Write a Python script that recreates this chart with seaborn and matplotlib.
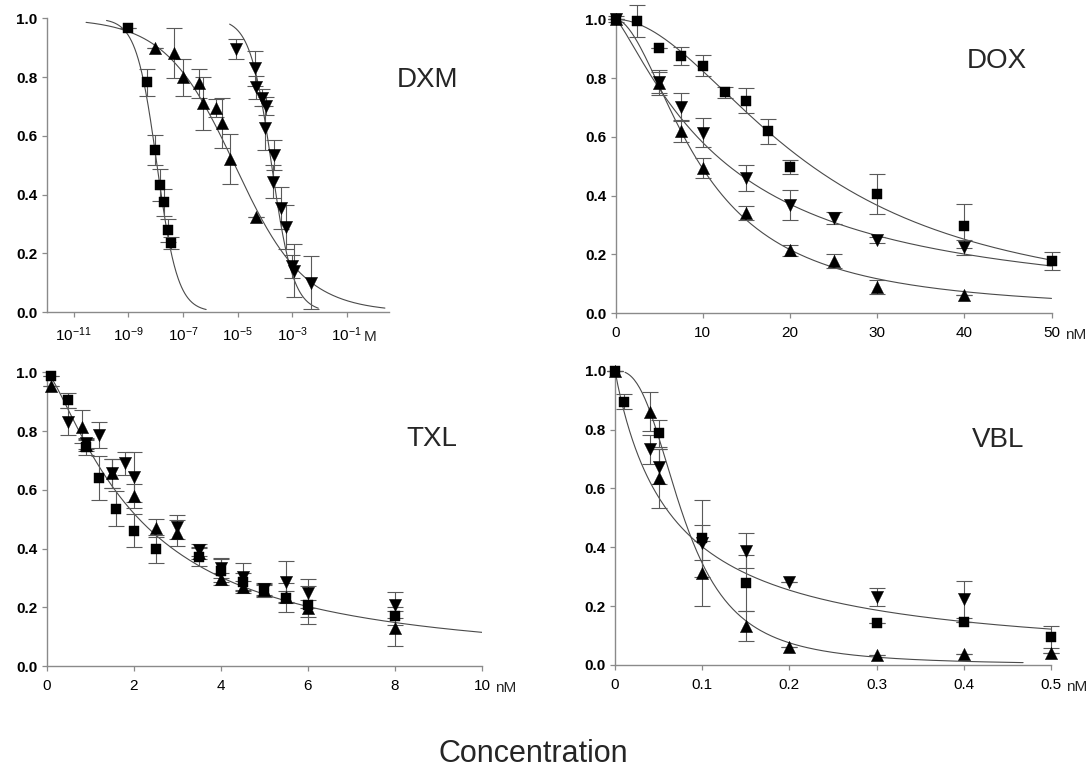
import numpy as np
import pandas as pd
import matplotlib
matplotlib.use("Agg")
import matplotlib.pyplot as plt
import seaborn as sns

sns.set_theme(style="ticks")
plt.rcParams["font.family"] = ["Liberation Sans", "DejaVu Sans"]
plt.rcParams["mathtext.default"] = "regular"

# ---------------- DXM (molar, log axis) ----------------
dxm_sq_x = [1e-9, 5e-9, 9.5e-9, 1.4e-8, 2.0e-8, 2.95e-8, 3.8e-8]
dxm_sq_y = [0.966, 0.782, 0.552, 0.432, 0.373, 0.278, 0.236]
dxm_sq_e = [0.0, 0.045, 0.05, 0.055, 0.045, 0.04, 0.02]

dxm_up_x = [9.3e-9, 4.8e-8, 9.8e-8, 3.8e-7, 5.6e-7, 1.6e-6, 2.8e-6, 5.2e-6, 4.6e-5]
dxm_up_y = [0.900, 0.881, 0.799, 0.779, 0.711, 0.694, 0.643, 0.520, 0.325]
dxm_up_e = [0.0, 0.085, 0.063, 0.05, 0.09, 0.03, 0.085, 0.085, 0.0]

dxm_dn_x = [9.1e-6, 4.3e-5, 4.6e-5, 8.1e-5, 1.15e-4, 1.0e-4, 2.1e-4, 2.0e-4,
            3.9e-4, 5.8e-4, 1.0e-3, 1.17e-3, 5.1e-3]
dxm_dn_y = [0.896, 0.830, 0.765, 0.730, 0.702, 0.626, 0.535, 0.444,
            0.354, 0.288, 0.155, 0.140, 0.099]
dxm_dn_e = [0.033, 0.06, 0.04, 0.03, 0.03, 0.075, 0.05, 0.055,
            0.07, 0.075, 0.04, 0.09, 0.09]

# fitted dose-response curves: (log IC50, Hill slope, log start, log end)
dxm_fit_sq = (-7.95, 1.15, -9.8, -6.15)
dxm_fit_up = (-5.1, 0.34, -10.55, 0.4)
dxm_fit_dn = (-3.75, 1.1, -5.29, -2.04)

# ---------------- DOX (nM) ----------------
dox_sq_x = [0, 2.5, 5, 7.5, 10, 12.5, 15, 17.5, 20, 30, 40, 50]
dox_sq_y = [1.0, 0.995, 0.901, 0.875, 0.842, 0.751, 0.723, 0.618, 0.497, 0.405, 0.297, 0.176]
dox_sq_e = [0.01, 0.055, 0.0, 0.03, 0.035, 0.02, 0.042, 0.042, 0.025, 0.068, 0.075, 0.03]

dox_dn_x = [0, 5, 7.5, 10, 15, 20, 25, 30, 40]
dox_dn_y = [1.0, 0.788, 0.703, 0.614, 0.459, 0.368, 0.323, 0.249, 0.224]
dox_dn_e = [0.0, 0.04, 0.045, 0.05, 0.045, 0.05, 0.02, 0.01, 0.025]

dox_up_x = [0, 5, 7.5, 10, 15, 20, 25, 30, 40]
dox_up_y = [1.0, 0.782, 0.618, 0.493, 0.340, 0.213, 0.176, 0.088, 0.062]
dox_up_e = [0.0, 0.04, 0.037, 0.035, 0.025, 0.02, 0.024, 0.025, 0.0]

# (IC50, Hill slope, start, end)
dox_fit_sq = (22.5, 1.9, 0.0, 50.0)
dox_fit_dn = (13.0, 1.23, 0.0, 50.0)
dox_fit_up = (9.8, 1.81, 0.0, 50.0)

# ---------------- TXL (nM) ----------------
txl_sq_x = [0.1, 0.5, 0.9, 1.2, 1.6, 2.0, 2.5, 3.5, 4.0, 4.5, 5.0, 5.5, 6.0, 8.0]
txl_sq_y = [0.987, 0.904, 0.745, 0.641, 0.535, 0.461, 0.397, 0.372, 0.325, 0.285, 0.255, 0.233, 0.208, 0.170]
txl_sq_e = [0.0, 0.025, 0.025, 0.075, 0.06, 0.055, 0.048, 0.03, 0.04, 0.03, 0.02, 0.05, 0.065, 0.03]

txl_up_x = [0.1, 0.8, 0.9, 1.5, 2.0, 2.5, 3.0, 3.5, 4.0, 4.5, 5.0, 5.5, 6.0, 8.0]
txl_up_y = [0.953, 0.815, 0.753, 0.656, 0.579, 0.469, 0.452, 0.386, 0.296, 0.268, 0.259, 0.234, 0.196, 0.128]
txl_up_e = [0.0, 0.055, 0.02, 0.05, 0.04, 0.03, 0.045, 0.02, 0.02, 0.02, 0.02, 0.02, 0.03, 0.06]

txl_dn_x = [0.5, 0.9, 1.2, 1.5, 1.8, 2.0, 3.0, 3.5, 4.0, 4.5, 5.0, 5.5, 6.0, 8.0]
txl_dn_y = [0.832, 0.758, 0.787, 0.656, 0.690, 0.643, 0.474, 0.395, 0.333, 0.304, 0.261, 0.287, 0.247, 0.208]
txl_dn_e = [0.047, 0.02, 0.045, 0.05, 0.04, 0.085, 0.04, 0.02, 0.035, 0.045, 0.02, 0.07, 0.05, 0.045]

txl_fit = (2.125, 1.32, 0.1, 10.0)

# ---------------- VBL (nM) ----------------
vbl_sq_x = [0, 0.01, 0.05, 0.1, 0.15, 0.3, 0.4, 0.5]
vbl_sq_y = [1.0, 0.895, 0.787, 0.430, 0.280, 0.142, 0.147, 0.096]
vbl_sq_e = [0.0, 0.025, 0.045, 0.13, 0.095, 0.0, 0.0, 0.038]

vbl_up_x = [0, 0.04, 0.05, 0.1, 0.15, 0.2, 0.3, 0.4, 0.5]
vbl_up_y = [1.0, 0.861, 0.634, 0.311, 0.132, 0.060, 0.034, 0.037, 0.040]
vbl_up_e = [0.0, 0.065, 0.1, 0.11, 0.05, 0.0, 0.0, 0.0, 0.0]

vbl_dn_x = [0.04, 0.05, 0.1, 0.15, 0.2, 0.3, 0.4]
vbl_dn_y = [0.733, 0.674, 0.416, 0.388, 0.283, 0.232, 0.223]
vbl_dn_e = [0.05, 0.06, 0.06, 0.06, 0.0, 0.03, 0.062]

vbl_fit_shallow = (0.0667, 0.98, 0.0, 0.5)
vbl_fit_steep = (0.079, 2.7, 0.0115, 0.468)

y_ticks = [0.0, 0.2, 0.4, 0.6, 0.8, 1.0]

CURVE = "#4a4a4a"
BAR = "#5a5a5a"
AXIS = "#8a8a8a"


def hill(x, ic50, h):
    x = np.asarray(x, dtype=float)
    return 1.0 / (1.0 + (x / ic50) ** h)


def draw_curve(ax, fit, log=False):
    ic, h, a, b = fit
    if log:
        lx = np.linspace(a, b, 300)
        xs = 10.0 ** lx
        ys = 1.0 / (1.0 + 10.0 ** (h * (lx - ic)))
    else:
        xs = np.linspace(a, b, 300)
        ys = hill(xs, ic, h)
    sns.lineplot(x=xs, y=ys, ax=ax, color=CURVE, lw=0.8, sort=False,
                 estimator=None, zorder=2)


def draw_series(ax, xs, ys, es, marker, size):
    es = np.asarray(es, dtype=float)
    ax.errorbar(xs, ys, yerr=es, fmt="none", ecolor=BAR, elinewidth=0.8,
                capsize=5.5, capthick=0.8, zorder=3, clip_on=False)
    df = pd.DataFrame({"x": xs, "y": ys})
    sns.scatterplot(data=df, x="x", y="y", ax=ax, marker=marker, s=size,
                    color="black", edgecolor="black", linewidth=0.3,
                    zorder=4, clip_on=False, legend=False)


def style_axes(ax, xticks, xlabels, unit, unit_x, unit_dx=9.5, unit_dy=-10.5):
    ax.set_ylim(0, 1.0)
    ax.set_yticks(y_ticks)
    ax.set_yticklabels([f"{v:.1f}" for v in y_ticks], fontsize=11,
                       fontweight="bold")
    ax.set_xticks(xticks)
    ax.set_xticklabels(xlabels, fontsize=11)
    ax.set_xlabel("")
    ax.set_ylabel("")
    ax.minorticks_off()
    for s in ("top", "right"):
        ax.spines[s].set_visible(False)
    for s in ("left", "bottom"):
        ax.spines[s].set_color(AXIS)
        ax.spines[s].set_linewidth(1.0)
    ax.tick_params(axis="both", direction="out", length=3.6, width=0.9,
                   color=AXIS, labelcolor="black")
    ax.tick_params(axis="y", pad=3)
    ax.tick_params(axis="x", pad=6)
    ax.annotate(unit, xy=(unit_x, 0), xycoords=("data", "axes fraction"),
                xytext=(unit_dx, unit_dy), textcoords="offset points",
                ha="left", va="top", fontsize=11)


W, H = 1091, 769
fig = plt.figure(figsize=(W / 100, H / 100), dpi=100)


def add_axes(l, r, t, b):
    return fig.add_axes([l / W, 1 - b / H, (r - l) / W, (b - t) / H])


ax_dxm = add_axes(46.5, 389, 18.3, 312)
ax_dox = add_axes(615.7, 1051.5, 19.3, 313)
ax_txl = add_axes(46.7, 482, 372.3, 666)
ax_vbl = add_axes(615, 1051, 370.7, 665)

# DXM
ax = ax_dxm
ax.set_xscale("log")
for fit in (dxm_fit_sq, dxm_fit_up, dxm_fit_dn):
    draw_curve(ax, fit, log=True)
draw_series(ax, dxm_sq_x, dxm_sq_y, dxm_sq_e, "s", 62)
draw_series(ax, dxm_up_x, dxm_up_y, dxm_up_e, "^", 78)
draw_series(ax, dxm_dn_x, dxm_dn_y, dxm_dn_e, "v", 78)
ax.set_xlim(1e-12, 10 ** 0.55)
dxm_ticks = [1e-11, 1e-9, 1e-7, 1e-5, 1e-3, 1e-1]
dxm_labels = [r"$10^{-11}$", r"$10^{-9}$", r"$10^{-7}$", r"$10^{-5}$",
              r"$10^{-3}$", r"$10^{-1}$"]
style_axes(ax, dxm_ticks, dxm_labels, "M", 1e-1, unit_dx=12, unit_dy=-13)
ax.text(1.111, 0.79, "DXM", transform=ax.transAxes, ha="center",
        va="center", fontsize=20)

# DOX
ax = ax_dox
for fit in (dox_fit_sq, dox_fit_dn, dox_fit_up):
    draw_curve(ax, fit)
draw_series(ax, dox_sq_x, dox_sq_y, dox_sq_e, "s", 62)
draw_series(ax, dox_dn_x, dox_dn_y, dox_dn_e, "v", 78)
draw_series(ax, dox_up_x, dox_up_y, dox_up_e, "^", 78)
ax.set_xlim(0, 50)
style_axes(ax, [0, 10, 20, 30, 40, 50], ["0", "10", "20", "30", "40", "50"],
           "nM", 50)
ax.text(0.875, 0.858, "DOX", transform=ax.transAxes, ha="center",
        va="center", fontsize=20)

# TXL
ax = ax_txl
draw_curve(ax, txl_fit)
draw_series(ax, txl_sq_x, txl_sq_y, txl_sq_e, "s", 62)
draw_series(ax, txl_up_x, txl_up_y, txl_up_e, "^", 78)
draw_series(ax, txl_dn_x, txl_dn_y, txl_dn_e, "v", 78)
ax.set_xlim(0, 10)
style_axes(ax, [0, 2, 4, 6, 8, 10], ["0", "2", "4", "6", "8", "10"],
           "nM", 10)
ax.text(0.885, 0.773, "TXL", transform=ax.transAxes, ha="center",
        va="center", fontsize=20)

# VBL
ax = ax_vbl
draw_curve(ax, vbl_fit_shallow)
draw_curve(ax, vbl_fit_steep)
draw_series(ax, vbl_sq_x, vbl_sq_y, vbl_sq_e, "s", 62)
draw_series(ax, vbl_up_x, vbl_up_y, vbl_up_e, "^", 78)
draw_series(ax, vbl_dn_x, vbl_dn_y, vbl_dn_e, "v", 78)
ax.set_xlim(0, 0.5)
style_axes(ax, [0, 0.1, 0.2, 0.3, 0.4, 0.5],
           ["0", "0.1", "0.2", "0.3", "0.4", "0.5"], "nM", 0.5,
           unit_dx=10.5)
ax.text(0.879, 0.765, "VBL", transform=ax.transAxes, ha="center",
        va="center", fontsize=20)

fig.text(533 / W, 1 - 754 / H, "Concentration", ha="center", va="center",
         fontsize=22)

fig.savefig("out.png", dpi=100, facecolor="white")
